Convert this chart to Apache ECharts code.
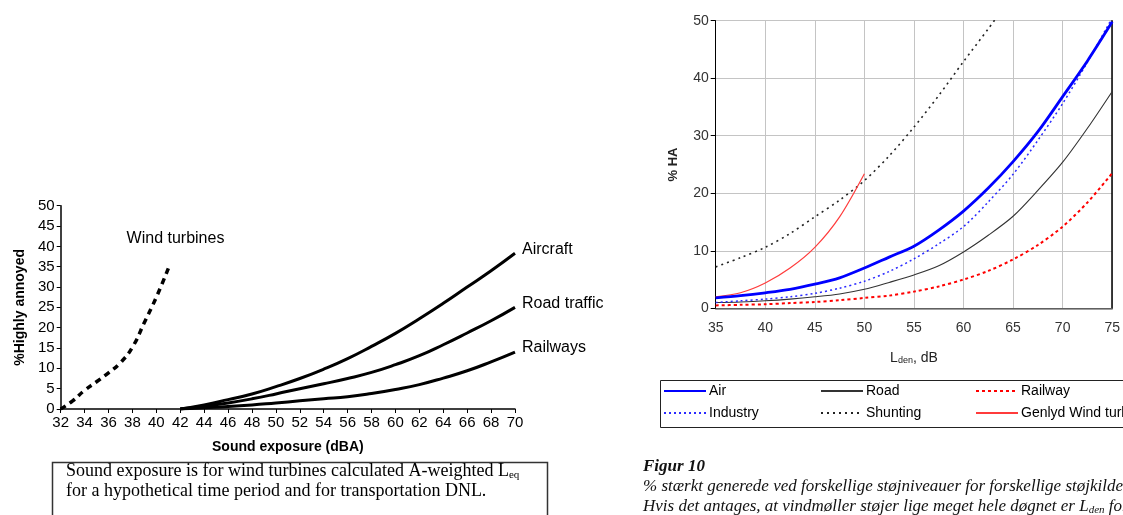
<!DOCTYPE html>
<html><head><meta charset="utf-8">
<script src="https://cdn.jsdelivr.net/npm/echarts@6/dist/echarts.min.js"></script>
<style>html,body{margin:0;padding:0;background:#fff}#c{width:1123px;height:515px}</style>
</head><body><div id="c"></div>
<script>
// ---- Left chart data (Pedersen) ----
const windX = [32,33,34,35,36,37,38,39,40,41.1];
const windTurbines = [0,2,4.6,6.7,8.9,11.4,15.2,21.3,27.5,35.3];
const transX = [42,44,46,48,50,52,54,56,58,60,62,64,66,68,70];
const aircraft = [0,1.0,2.3,3.7,5.5,7.5,9.8,12.4,15.4,18.6,22.2,26.0,30.0,34.0,38.3];
const roadTraffic = [0,0.7,1.5,2.5,3.7,5.0,6.2,7.5,9.0,10.9,13.1,15.8,18.7,21.7,25.0];
const railways = [0,0.3,0.6,1.0,1.5,2.0,2.5,3.0,3.8,4.8,6.0,7.6,9.4,11.6,14.0];

// ---- Right chart data (Figur 10) ----
const lden = [35,37.5,40,42.5,45,47.5,50,52.5,55,57.5,60,62.5,65,67.5,70,72.5,75];
const air      = [1.8,2.2,2.7,3.3,4.2,5.3,7.0,8.9,10.8,13.6,16.9,20.9,25.5,30.7,36.8,43.0,49.8];
const industry = [1.0,1.3,1.6,2.0,2.6,3.5,4.7,6.4,8.6,11.2,14.2,18.5,23.3,29.2,35.6,42.8,50.5];
const road     = [1.0,1.1,1.3,1.6,2.0,2.5,3.3,4.5,5.8,7.4,9.8,12.7,16.0,20.5,25.4,31.3,37.7];
const railway  = [0.5,0.6,0.7,0.9,1.1,1.4,1.8,2.2,2.9,3.8,5.0,6.5,8.5,11.0,14.2,18.4,23.5];
const shunting = [7.2,8.8,10.6,13.0,15.9,18.8,22.2,26.5,31.5,37.0,42.9,48.6,54.5,null,null,null,null];
const genlydWind = [2.0,2.7,4.4,7.0,10.6,15.9,23.4,null,null,null,null,null,null,null,null,null,null];

const pairs = (xs, ys) => xs.map((x,i)=>[x, ys[i]]).filter(p=>p[1]!==null);

const F = '"Liberation Sans", Arial, sans-serif';
const SERIF = '"Liberation Serif", "Times New Roman", serif';

const chart = echarts.init(document.getElementById('c'), null, {renderer:'canvas'});
const leftEnd = (name) => ({show:true, formatter:name, color:'#000', fontFamily:F, fontSize:16, offset:[-1,-4]});
const legendBase = {orient:'vertical', top:384, padding:0, itemWidth:42, itemHeight:14, itemGap:8,
  itemStyle:{opacity:0, borderWidth:0}, textStyle:{color:'#000', fontFamily:F, fontSize:14, padding:[0,0,0,-2]}};

chart.setOption({
  backgroundColor:'#fff',
  animation:false,
  grid:[
    {left:60.7, right:608, top:205.7, bottom:106},
    {left:715.7, right:1.3, top:20.7, bottom:206.7}
  ],
  xAxis:[
    {gridIndex:0, type:'value', min:32, max:70, interval:2,
     axisLine:{lineStyle:{color:'#000', width:1.5}},
     axisTick:{show:true, length:4, lineStyle:{color:'#000'}},
     axisLabel:{color:'#000', fontFamily:F, fontSize:15, margin:6},
     splitLine:{show:false},
     name:'Sound exposure (dBA)', nameLocation:'middle', nameGap:31,
     nameTextStyle:{color:'#000', fontFamily:F, fontSize:14, fontWeight:'bold'}},
    {gridIndex:1, type:'value', min:35, max:75, interval:5,
     axisLine:{lineStyle:{color:'#000', width:1}},
     axisTick:{show:false},
     axisLabel:{color:'#333', fontFamily:F, fontSize:14, margin:13},
     splitLine:{show:true, lineStyle:{color:'#c4c4c4', width:1}},
     name:'{a|L}{s|den}{a|, dB}', nameLocation:'middle', nameGap:42,
     nameTextStyle:{rich:{a:{color:'#222', fontFamily:F, fontSize:14}, s:{color:'#222', fontFamily:F, fontSize:9, verticalAlign:'bottom', padding:[6,0,0,0]}}}},
    {gridIndex:1, type:'value', min:35, max:75, position:'top',
     axisLine:{show:true, lineStyle:{color:'#808080', width:1.5}},
     axisTick:{show:false}, axisLabel:{show:false}, splitLine:{show:false}}
  ],
  yAxis:[
    {gridIndex:0, type:'value', min:0, max:50, interval:5,
     axisLine:{show:true, lineStyle:{color:'#000', width:1.5}},
     axisTick:{show:true, length:4, lineStyle:{color:'#000'}},
     axisLabel:{color:'#000', fontFamily:F, fontSize:15, margin:6},
     splitLine:{show:false},
     name:'%Highly annoyed', nameLocation:'middle', nameGap:34,
     nameTextStyle:{color:'#000', fontFamily:F, fontSize:14, fontWeight:'bold'}},
    {gridIndex:1, type:'value', min:0, max:50, interval:10,
     axisLine:{show:true, lineStyle:{color:'#000', width:1}},
     axisTick:{show:true, length:5, lineStyle:{color:'#000'}},
     axisLabel:{color:'#333', fontFamily:F, fontSize:14, margin:7},
     splitLine:{show:true, lineStyle:{color:'#c4c4c4', width:1}},
     name:'% HA', nameLocation:'middle', nameGap:36,
     nameTextStyle:{color:'#222', fontFamily:F, fontSize:13, fontWeight:'bold'}},
    {gridIndex:1, type:'value', min:0, max:50, position:'right',
     axisLine:{show:true, lineStyle:{color:'#000', width:1.5}},
     axisTick:{show:false}, axisLabel:{show:false}, splitLine:{show:false}}
  ],
  legend:[
    Object.assign({data:['Air','Industry'], left:663}, legendBase),
    Object.assign({data:['Road','Shunting'], left:820}, legendBase),
    Object.assign({data:['Railway','Genlyd Wind turbine'], left:975}, legendBase)
  ],
  series:[
    {name:'Wind turbines', type:'line', xAxisIndex:0, yAxisIndex:0, data:pairs(windX, windTurbines), smooth:true, symbol:'none',
     lineStyle:{color:'#000', width:3.5, type:[6,5]},
     endLabel:{show:true, formatter:'Wind turbines', color:'#000', fontFamily:F, fontSize:16, align:'center', offset:[-2,-27]}},
    {name:'Aircraft', type:'line', xAxisIndex:0, yAxisIndex:0, data:pairs(transX, aircraft), smooth:true, symbol:'none',
     lineStyle:{color:'#000', width:3}, endLabel:leftEnd('Aircraft')},
    {name:'Road traffic', type:'line', xAxisIndex:0, yAxisIndex:0, data:pairs(transX, roadTraffic), smooth:true, symbol:'none',
     lineStyle:{color:'#000', width:3}, endLabel:leftEnd('Road traffic')},
    {name:'Railways', type:'line', xAxisIndex:0, yAxisIndex:0, data:pairs(transX, railways), smooth:true, symbol:'none',
     lineStyle:{color:'#000', width:3}, endLabel:leftEnd('Railways')},

    {name:'Shunting', type:'line', xAxisIndex:1, yAxisIndex:1, data:pairs(lden, shunting), smooth:0.3, symbol:'none', clip:true,
     itemStyle:{color:'#222'}, lineStyle:{color:'#222', width:1.6, type:[2,4]}},
    {name:'Genlyd Wind turbine', type:'line', xAxisIndex:1, yAxisIndex:1, data:pairs(lden, genlydWind), smooth:0.3, symbol:'none',
     itemStyle:{color:'#ff3b3b'}, lineStyle:{color:'#ff3b3b', width:1.2}},
    {name:'Road', type:'line', xAxisIndex:1, yAxisIndex:1, data:pairs(lden, road), smooth:0.3, symbol:'none',
     itemStyle:{color:'#333'}, lineStyle:{color:'#333', width:1.1}},
    {name:'Railway', type:'line', xAxisIndex:1, yAxisIndex:1, data:pairs(lden, railway), smooth:0.3, symbol:'none',
     itemStyle:{color:'#ff0000'}, lineStyle:{color:'#ff0000', width:2, type:[3,3]}},
    {name:'Industry', type:'line', xAxisIndex:1, yAxisIndex:1, data:pairs(lden, industry), smooth:0.3, symbol:'none', clip:true,
     itemStyle:{color:'#2a2aff'}, lineStyle:{color:'#2a2aff', width:1.5, type:[2,3]}},
    {name:'Air', type:'line', xAxisIndex:1, yAxisIndex:1, data:pairs(lden, air), smooth:0.3, symbol:'none',
     itemStyle:{color:'#0000ff'}, lineStyle:{color:'#0000ff', width:2.8}}
  ],
  graphic:[
    {type:'rect', shape:{x:52.5, y:462.5, width:495, height:70}, style:{fill:'none', stroke:'#333', lineWidth:1.5}},
    {type:'text', x:66, y:461, style:{text:'{t|Sound exposure is for wind turbines calculated A-weighted L}{s|eq}\n{t|for a hypothetical time period and for transportation DNL.}',
      rich:{t:{fontFamily:SERIF, fontSize:18, fill:'#000', lineHeight:20}, s:{fontFamily:SERIF, fontSize:11, fill:'#000', verticalAlign:'bottom', lineHeight:20, padding:[8,0,0,0]}}}},
    {type:'rect', shape:{x:660.5, y:380.5, width:480, height:47}, style:{fill:'none', stroke:'#222', lineWidth:1}},
    {type:'text', x:643, y:458, style:{text:'Figur 10', font:'italic bold 17px '+SERIF, fill:'#111'}},
    {type:'text', x:643, y:477, style:{text:'{t|% stærkt generede ved forskellige støjniveauer for forskellige støjkilder.}\n{t|Hvis det antages, at vindmøller støjer lige meget hele døgnet er L}{s|den}{t| for}',
      rich:{t:{font:'italic 17px '+SERIF, fill:'#111', lineHeight:19.5}, s:{font:'italic 11px '+SERIF, fill:'#111', lineHeight:19.5, verticalAlign:'bottom', padding:[7,0,0,0]}}}}
  ]
});
</script></body></html>
